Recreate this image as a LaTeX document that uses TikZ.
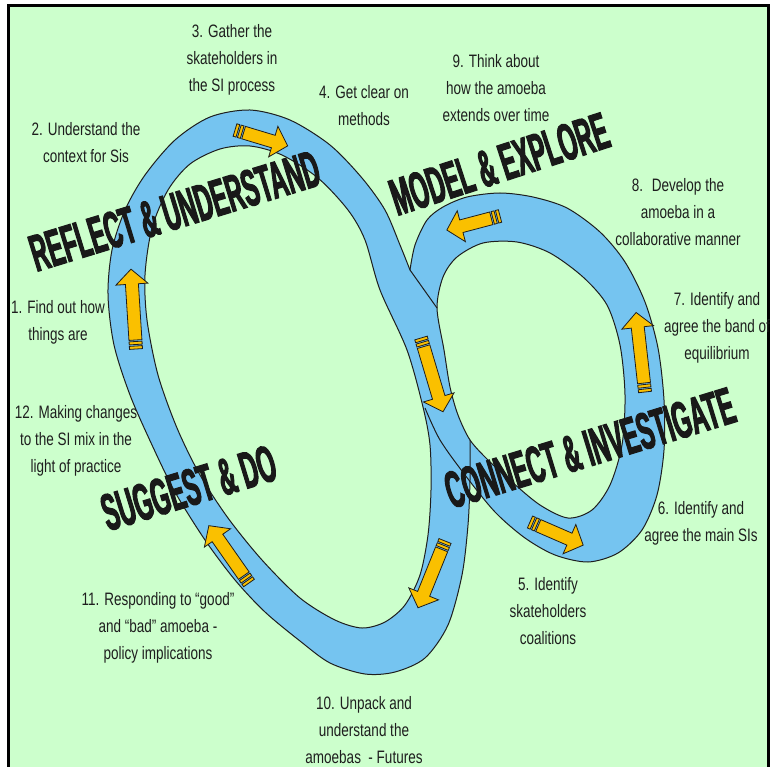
\documentclass[tikz,border=0pt]{standalone}
\usepackage{fontspec}
\setmainfont{Liberation Sans}[FakeStretch=0.75]
\newfontfamily\headfont{Liberation Sans}[FakeStretch=0.45, BoldFeatures={FakeBold=2}]
\definecolor{bg}{RGB}{204,255,204}
\definecolor{band}{RGB}{117,196,240}
\definecolor{yel}{RGB}{250,192,0}
\definecolor{ink}{RGB}{30,30,30}
\tikzset{
  edge/.style={draw=ink, line width=1pt, line join=round},
  lab/.style={align=center, inner sep=0pt, text=ink, font=\fontsize{18}{27}\selectfont},
  head/.style={anchor=base, inner sep=0pt, text=black!90, font=\headfont\bfseries\fontsize{52}{52}\selectfont},
  pics/yarr/.style={code={
    \filldraw[yel, draw=ink, line width=0.8pt] (0,-6.5) rectangle (3,6.5);
    \filldraw[yel, draw=ink, line width=0.8pt] (4.5,-6.5) rectangle (7.5,6.5);
    \filldraw[yel, draw=ink, line width=0.8pt, line join=miter]
      (9,-6.5) -- ({#1-15},-6.5) -- ({#1-15},-16) -- (#1,0) -- ({#1-15},16) -- ({#1-15},6.5) -- (9,6.5) -- cycle;
  }}
}
\begin{document}
\begin{tikzpicture}[x=1pt, y=-1pt]
\useasboundingbox (0,0) rectangle (776,767);
\fill[bg] (8,6) rectangle (768,767);
\draw[line width=3pt, black] (8,767) -- (8,6) -- (768,6) -- (768,767);

% big loop fill
\fill[band, even odd rule]
  plot[smooth] coordinates {(470,440) (470,480) (468,525) (462,575) (448,625) (425,658) (395,672) (365,674) (330,663) (300,641) (265,612) (235,580) (205,540) (175,492) (152,445) (130,395) (114,345) (108,295) (112,250) (125,210) (145,175) (175,140) (210,117) (250,110) (290,120) (330,145) (362,178) (385,210) (400,245) (410,270)}
  -- (437,308) -- (440,350) -- (446,390) -- (458,425) -- cycle
  plot[smooth cycle] coordinates {(380,290) (407,350) (423,407) (430,445) (431,490) (428,535) (420,575) (405,605) (385,622) (362,628) (335,620) (300,598) (262,560) (228,518) (200,475) (177,428) (158,375) (147,320) (145,275) (152,228) (168,190) (190,164) (220,149) (250,146) (282,155) (318,178) (348,210) (365,240)};
% small loop fill
\fill[band, even odd rule]
  plot[smooth] coordinates {(425,408) (440,440) (465,475) (495,512) (525,538) (555,555) (588,562) (618,553) (642,530) (657,495) (664,450) (664,400) (658,348) (645,302) (625,262) (600,232) (567,208) (533,197) (500,193) (467,197) (443,207) (427,220) (415,245) (410,270)}
  -- (398,300) -- (412,340) -- (428,385) -- cycle
  plot[smooth cycle] coordinates {(437,308) (443,277) (457,257) (483,243) (517,242) (550,253) (583,277) (607,305) (620,345) (625,395) (622,445) (610,485) (592,510) (568,518) (540,505) (512,482) (488,460) (470,440) (458,415) (450,387) (444,350)};

% outlines
\draw[edge] plot[smooth cycle] coordinates {(380,290) (407,350) (423,407) (430,445) (431,490) (428,535) (420,575) (405,605) (385,622) (362,628) (335,620) (300,598) (262,560) (228,518) (200,475) (177,428) (158,375) (147,320) (145,275) (152,228) (168,190) (190,164) (220,149) (250,146) (282,155) (318,178) (348,210) (365,240)};
\draw[edge] plot[smooth cycle] coordinates {(437,308) (443,277) (457,257) (483,243) (517,242) (550,253) (583,277) (607,305) (620,345) (625,395) (622,445) (610,485) (592,510) (568,518) (540,505) (512,482) (488,460) (470,440) (458,415) (450,387) (444,350)};
\draw[edge] plot[smooth] coordinates {(470,440) (470,480) (468,525) (462,575) (448,625) (425,658) (395,672) (365,674) (330,663) (300,641) (265,612) (235,580) (205,540) (175,492) (152,445) (130,395) (114,345) (108,295) (112,250) (125,210) (145,175) (175,140) (210,117) (250,110) (290,120) (330,145) (362,178) (385,210) (400,245) (410,270)} -- (437,308);
\draw[edge] plot[smooth] coordinates {(425,408) (440,440) (465,475) (495,512) (525,538) (555,555) (588,562) (618,553) (642,530) (657,495) (664,450) (664,400) (658,348) (645,302) (625,262) (600,232) (567,208) (533,197) (500,193) (467,197) (443,207) (427,220) (415,245) (410,270)};

% arrows
\pic[rotate=-16.8] at (235,130) {yarr=55};
\pic[rotate=-73.4] at (421,338) {yarr=77};
\pic[rotate=194.8] at (500,216) {yarr=55};
\pic[rotate=96.4] at (645,392) {yarr=80};
\pic[rotate=-23.5] at (530,522) {yarr=58};
\pic[rotate=-112] at (445,541) {yarr=72};
\pic[rotate=125] at (249,583) {yarr=70};
\pic[rotate=93.6] at (136,349) {yarr=80};

% headings
\node[head, rotate=17] (h1) at (180,228) {REFLECT \& UNDERSTAND};
\node[head, rotate=18] (h2) at (505,181) {MODEL \& EXPLORE};
\node[head, rotate=17] (h3) at (595,465) {CONNECT \& INVESTIGATE};
\node[head, rotate=17] (h4) at (194,505) {SUGGEST \& DO};

% labels
\node[lab] (t3) at (232,60) {3. Gather the\\skateholders in\\the SI process};
\node[lab] (t2) at (86,143) {2. Understand the\\context for Sis};
\node[lab] (t4) at (364,106) {4. Get clear on\\methods};
\node[lab] (t9) at (496,88) {9. Think about\\how the amoeba\\extends over time};
\node[lab] (t8) at (678,212) {8.~ Develop the\\amoeba in a\\collaborative manner};
\node[lab] (t7) at (717,328) {7. Identify and\\agree the band of\\equilibrium};
\node[lab] (t1) at (58,322) {1. Find out how\\things are};
\node[lab] (t12) at (76,441) {12. Making changes\\to the SI mix in the\\light of practice};
\node[lab] (t6) at (701,523) {6. Identify and\\agree the main SIs};
\node[lab] (t5) at (548,611) {5. Identify\\skateholders\\coalitions};
\node[lab] (t11) at (158,628) {11. Responding to “good”\\and “bad” amoeba -\\policy implications};
\node[lab] (t10) at (364,730) {10. Unpack and\\understand the\\amoebas~ - Futures};
\end{tikzpicture}
\end{document}
